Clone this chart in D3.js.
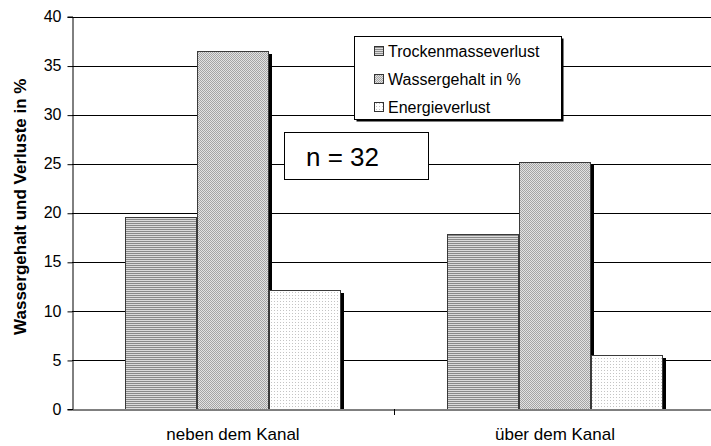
<!DOCTYPE html>
<html>
<head>
<meta charset="utf-8">
<script src="https://cdn.jsdelivr.net/npm/d3@7"></script>
<style>
  html, body { margin: 0; padding: 0; background: #fff; }
  svg { display: block; font-family: Arial, "Liberation Sans", sans-serif; }
</style>
</head>
<body>
<svg id="chart" width="711" height="446"></svg>
<script>
// Data
const categories = ["neben dem Kanal", "über dem Kanal"];
const seriesNames = ["Trockenmasseverlust", "Wassergehalt in %", "Energieverlust"];
const trockenmasseverlust = [19.6, 17.8];
const wassergehalt = [36.5, 25.2];
const energieverlust = [12.1, 5.5];
const yTicks = [0, 5, 10, 15, 20, 25, 30, 35, 40];
const annotation = "n = 32";
const yTitle = "Wassergehalt und Verluste in %";

const seriesValues = [trockenmasseverlust, wassergehalt, energieverlust];
const patternIds = ["pTrocken", "pWasser", "pEnergie"];

const svg = d3.select("#chart");
const margin = { left: 72, top: 16.5, bottom: 409 };
const plotRight = 716; // plot area runs slightly past the window edge

// Fill patterns
const defs = svg.append("defs");
// horizontal stripes
const p1 = defs.append("pattern").attr("id", "pTrocken").attr("patternUnits", "userSpaceOnUse")
  .attr("width", 4).attr("height", 2);
p1.append("rect").attr("width", 4).attr("height", 2).attr("fill", "#dcdcdc");
p1.append("rect").attr("y", 1).attr("width", 4).attr("height", 1).attr("fill", "#8a8a8a");
// dithered grey
const p2 = defs.append("pattern").attr("id", "pWasser").attr("patternUnits", "userSpaceOnUse")
  .attr("width", 2).attr("height", 2);
p2.append("rect").attr("width", 2).attr("height", 2).attr("fill", "#e2e2e2");
p2.append("rect").attr("x", 0).attr("y", 0).attr("width", 1).attr("height", 1).attr("fill", "#a4a4a4");
p2.append("rect").attr("x", 1).attr("y", 1).attr("width", 1).attr("height", 1).attr("fill", "#a4a4a4");
// sparse dots
const p3 = defs.append("pattern").attr("id", "pEnergie").attr("patternUnits", "userSpaceOnUse")
  .attr("width", 3).attr("height", 3);
p3.append("rect").attr("width", 3).attr("height", 3).attr("fill", "#ffffff");
p3.append("rect").attr("x", 1).attr("y", 1).attr("width", 1).attr("height", 1).attr("fill", "#c4c4c4");

defs.append("clipPath").attr("id", "plotClip")
  .append("rect").attr("x", margin.left).attr("y", 0)
  .attr("width", plotRight - margin.left).attr("height", margin.bottom);

// Scales
const x0 = d3.scaleBand().domain(categories).range([margin.left, plotRight]).paddingInner(0.33).paddingOuter(0.165);
const x0outer = d3.scaleBand().domain(categories).range([margin.left, plotRight]).padding(0);
const y = d3.scaleLinear().domain([0, 40]).range([margin.bottom, margin.top]);

// Gridlines
svg.append("g").selectAll("line").data(yTicks.filter(d => d > 0)).join("line")
  .attr("x1", margin.left).attr("x2", plotRight)
  .attr("y1", d => Math.round(y(d)) + 0.5).attr("y2", d => Math.round(y(d)) + 0.5)
  .attr("stroke", "#000").attr("stroke-width", 1);

// Bars
const groupWidth = 216;
const x1 = d3.scaleBand().domain(d3.range(3)).range([0, groupWidth]).padding(0);
const barsG = svg.append("g").attr("clip-path", "url(#plotClip)");
categories.forEach((cat, ci) => {
  const gx = x0outer(cat) + (x0outer.bandwidth() - groupWidth) / 2;
  seriesValues.forEach((vals, si) => {
    const bx = Math.round(gx + x1(si));
    const by = Math.round(y(vals[ci]));
    const bw = Math.round(x1.bandwidth());
    const bh = margin.bottom - by;
    // drop shadow
    barsG.append("rect").attr("x", bx + 3).attr("y", by + 3).attr("width", bw).attr("height", bh)
      .attr("fill", "#000");
  });
  seriesValues.forEach((vals, si) => {
    const bx = Math.round(gx + x1(si));
    const by = Math.round(y(vals[ci]));
    const bw = Math.round(x1.bandwidth());
    const bh = margin.bottom - by;
    barsG.append("rect").attr("x", bx + 0.5).attr("y", by + 0.5).attr("width", bw - 1).attr("height", bh)
      .attr("fill", `url(#${patternIds[si]})`).attr("stroke", "#3a3a3a").attr("stroke-width", 1);
  });
});

// Y axis
const yAxis = d3.axisLeft(y).tickValues(yTicks).tickSize(5).tickPadding(5).tickFormat(d3.format("d"));
const yAxisG = svg.append("g").attr("transform", `translate(${margin.left + 0.5},0)`).call(yAxis);
yAxisG.select(".domain").attr("stroke", "#000");
yAxisG.selectAll(".tick line").attr("stroke", "#000").attr("transform", "translate(0,0.5)");
yAxisG.selectAll(".tick text").attr("font-size", 16).attr("fill", "#000")
  .attr("font-family", "Arial, 'Liberation Sans', sans-serif").attr("dx", "-1");

// X axis
const xAxis = d3.axisBottom(x0outer).tickSize(0).tickPadding(0).tickFormat("");
const xAxisG = svg.append("g").attr("transform", `translate(0,${margin.bottom + 0.5})`).call(xAxis);
xAxisG.select(".domain").attr("stroke", "#000");
xAxisG.selectAll(".tick").remove();
// separator tick between categories
svg.append("line")
  .attr("x1", x0outer(categories[1]) + 0.5).attr("x2", x0outer(categories[1]) + 0.5)
  .attr("y1", margin.bottom).attr("y2", margin.bottom + 6)
  .attr("stroke", "#000");
svg.append("g").selectAll("text").data(categories).join("text")
  .attr("x", d => x0outer(d) + x0outer.bandwidth() / 2)
  .attr("y", 440)
  .attr("text-anchor", "middle").attr("font-size", 17).attr("fill", "#000")
  .text(d => d);

// Y title
svg.append("text")
  .attr("transform", `translate(26,${(margin.top + margin.bottom) / 2 - 6}) rotate(-90)`)
  .attr("text-anchor", "middle").attr("font-size", 17).attr("font-weight", "bold").attr("fill", "#000")
  .text(yTitle);

// Legend
const lg = svg.append("g");
const lx = 354, ly = 36, lw = 207, lh = 83;
lg.append("rect").attr("x", lx + 2.5).attr("y", ly + 2.5).attr("width", lw).attr("height", lh).attr("fill", "#000");
lg.append("rect").attr("x", lx + 0.5).attr("y", ly + 0.5).attr("width", lw).attr("height", lh)
  .attr("fill", "#fff").attr("stroke", "#000");
seriesNames.forEach((name, i) => {
  const cy = 51 + i * 28;
  lg.append("rect").attr("x", 374.5).attr("y", cy - 4.5).attr("width", 9).attr("height", 9)
    .attr("fill", `url(#${patternIds[i]})`).attr("stroke", "#333");
  lg.append("text").attr("x", 388).attr("y", cy + 6).attr("font-size", 16).attr("fill", "#000").text(name);
});

// Sample size note
const ng = svg.append("g");
ng.append("rect").attr("x", 284.5).attr("y", 132.5).attr("width", 144).attr("height", 47)
  .attr("fill", "#fff").attr("stroke", "#000");
ng.append("text").attr("x", 306).attr("y", 166).attr("font-size", 26).attr("fill", "#000").text(annotation);
</script>
</body>
</html>
